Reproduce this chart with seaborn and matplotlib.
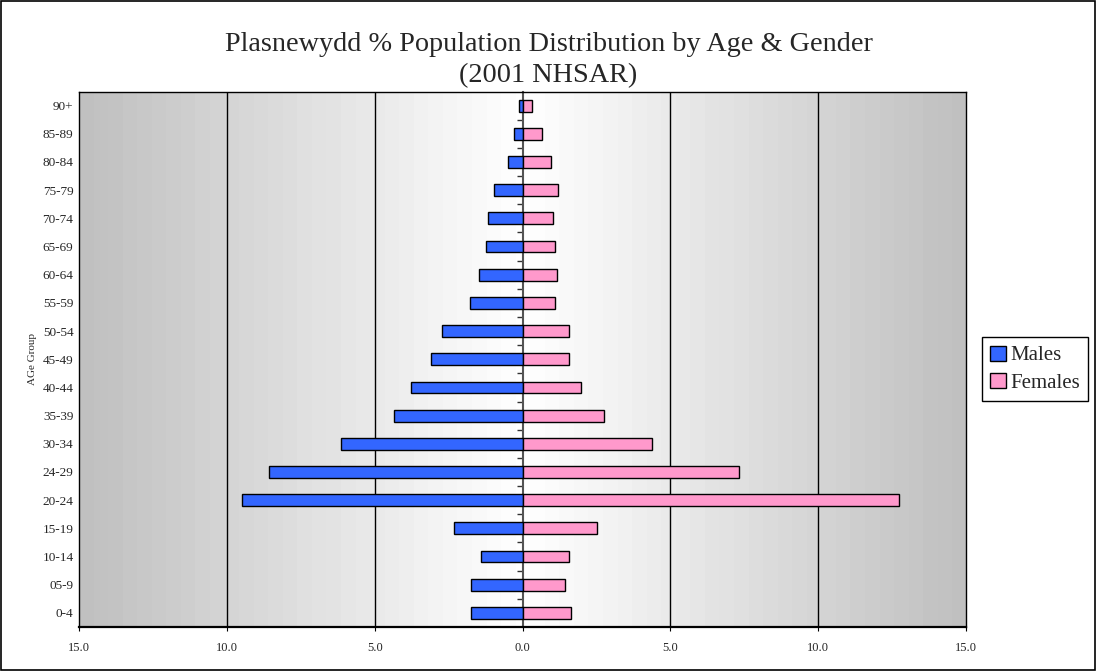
import numpy as np
import pandas as pd
import matplotlib
matplotlib.use('Agg')
import matplotlib.pyplot as plt
from matplotlib.patches import Rectangle
from matplotlib.ticker import FuncFormatter
import seaborn as sns

# data, bottom (youngest) to top
age_groups = ['0-4', '05-9', '10-14', '15-19', '20-24', '24-29', '30-34', '35-39',
              '40-44', '45-49', '50-54', '55-59', '60-64', '65-69', '70-74',
              '75-79', '80-84', '85-89', '90+']
males = [1.73, 1.73, 1.41, 2.30, 9.48, 8.59, 6.15, 4.36, 3.76, 3.09, 2.72,
         1.78, 1.48, 1.22, 1.16, 0.98, 0.48, 0.30, 0.12]
females = [1.64, 1.45, 1.57, 2.51, 12.74, 7.31, 4.39, 2.77, 1.99, 1.57, 1.57,
           1.11, 1.15, 1.11, 1.02, 1.20, 0.95, 0.65, 0.32]

df = pd.DataFrame({
    'Age': age_groups * 2,
    'Pct': [-m for m in males] + females,
    'Gender': ['Males'] * len(males) + ['Females'] * len(females),
})

sns.set_style('ticks')
plt.rcParams['font.family'] = ['Liberation Serif', 'DejaVu Serif']

fig = plt.figure(figsize=(10.97, 6.71), dpi=100)
ax = fig.add_axes([0.072, 0.0656, 0.8086, 0.798])

# grey-to-white background gradient
xs = np.linspace(-15, 15, 61)
shade = 1 - 0.25 * np.abs(xs) / 15
ax.imshow(shade[np.newaxis, :], cmap='gray', vmin=0, vmax=1, aspect='auto',
          extent=[-15, 15, 18.5, -0.5], zorder=0, interpolation='nearest')

sns.barplot(data=df, y='Age', x='Pct', hue='Gender', order=age_groups[::-1],
            dodge=False, orient='h', width=0.42,
            palette={'Males': '#3366FF', 'Females': '#FF99CC'},
            edgecolor='black', linewidth=1, saturation=1, ax=ax, zorder=3)

for v in [-10, -5, 5, 10]:
    ax.axvline(v, color='black', lw=1, zorder=1)

ax.set_xlim(-15, 15)
ax.set_ylim(18.5, -0.5)
ax.set_xticks(np.arange(-15, 16, 5))
ax.xaxis.set_major_formatter(FuncFormatter(lambda v, p: f'{abs(v):.1f}'))
ax.tick_params(axis='x', labelsize=9, length=3, color='black', pad=8)
ax.tick_params(axis='y', labelsize=9.5, length=0, pad=4)
ax.set_xlabel('')
ax.set_ylabel('AGe Group', fontsize=8, labelpad=4)
for s in ax.spines.values():
    s.set_color('black')
    s.set_linewidth(1)
    s.set_visible(True)
ax.spines['bottom'].set_linewidth(1.6)

# category axis through zero with boundary ticks pointing left
mid = ax.secondary_yaxis(0.5)
mid.set_yticks(np.arange(0.5, 18.5, 1))
mid.set_yticklabels([])
mid.tick_params(direction='in', length=4, color='#333333', width=1)
for s in mid.spines.values():
    s.set_color('#555555')
    s.set_linewidth(1.5)

handles, labels = ax.get_legend_handles_labels()
ax.get_legend().remove()
fig.legend(handles, labels, loc='center left', bbox_to_anchor=(0.895, 0.45),
           fontsize=15, frameon=True, fancybox=False, edgecolor='black',
           framealpha=1, handlelength=0.75, handleheight=0.75, handletextpad=0.2,
           borderpad=0.4, labelspacing=0.35, borderaxespad=0)

fig.text(0.5, 0.952, 'Plasnewydd % Population Distribution by Age & Gender\n(2001 NHSAR)',
         ha='center', va='top', fontsize=20.3, linespacing=1.3)

fig.patches.append(Rectangle((0.001, 0.002), 0.997, 0.996, transform=fig.transFigure,
                             fill=False, edgecolor='black', lw=1.2))

fig.savefig('out.png', dpi=100)
